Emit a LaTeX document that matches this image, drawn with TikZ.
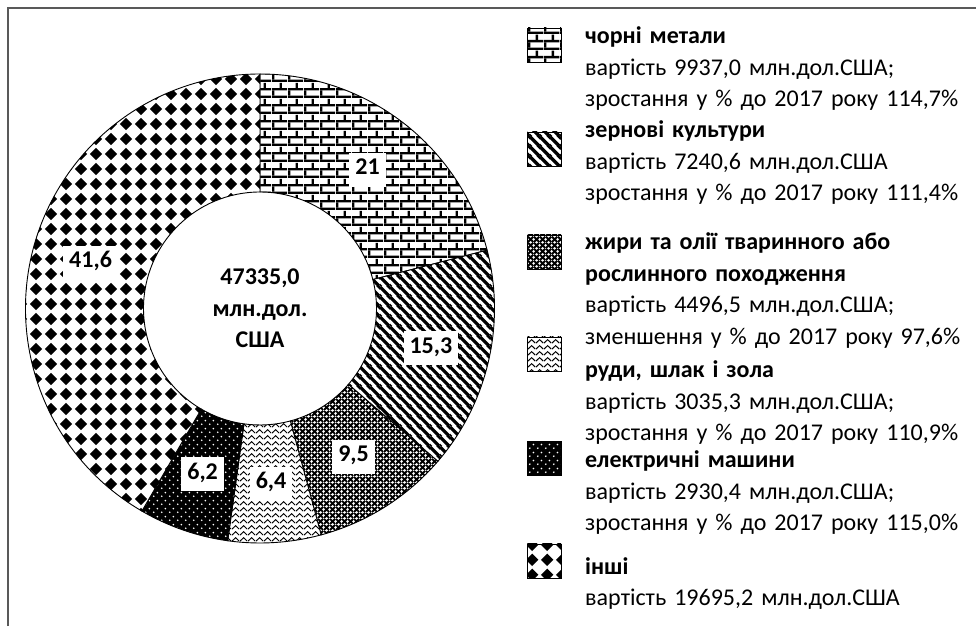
\documentclass[tikz,border=0pt]{standalone}
\usepackage{fontspec}
\setmainfont{Carlito}
\usetikzlibrary{patterns.meta}

\definecolor{framegray}{HTML}{595959}
\newcommand{\legfont}{\fontsize{24}{31.5}\selectfont}

% fill patterns of the ring
\tikzdeclarepattern{
  name=bricksfill, type=uncolored,
  bounding box={(0pt,0pt) and (16pt,16pt)},
  tile size={(16pt,16pt)},
  code={
    \fill (0pt,0pt) rectangle (16pt,2.5pt);
    \fill (0pt,8pt) rectangle (16pt,10.5pt);
    \fill (0pt,2.5pt) rectangle (2.5pt,8pt);
    \fill (8pt,10.5pt) rectangle (10.5pt,16pt);
  }
}
\tikzdeclarepattern{
  name=stripefill, type=uncolored,
  bounding box={(0pt,0pt) and (10pt,10pt)},
  tile size={(10pt,10pt)},
  code={
    \draw[line width=3.5pt] (-5pt,5pt) -- (5pt,-5pt) (0pt,10pt) -- (10pt,0pt) (5pt,15pt) -- (15pt,5pt);
  }
}
\tikzdeclarepattern{
  name=trellisfill, type=uncolored,
  bounding box={(0pt,0pt) and (6pt,6pt)},
  tile size={(6pt,6pt)},
  code={
    \draw[line width=2.1pt] (0pt,0pt) -- (6pt,6pt) (0pt,6pt) -- (6pt,0pt);
  }
}
\tikzdeclarepattern{
  name=weavefill, type=uncolored,
  bounding box={(0pt,0pt) and (8pt,6pt)},
  tile size={(8pt,6pt)},
  code={
    \draw[line width=1.1pt] (0pt,1pt) -- (4pt,5pt) -- (8pt,1pt);
  }
}
\tikzdeclarepattern{
  name=dotfill, type=uncolored,
  bounding box={(0pt,0pt) and (8pt,8pt)},
  tile size={(8pt,8pt)},
  code={
    \fill (2pt,2pt) circle (1pt);
    \fill (6pt,6pt) circle (1pt);
  }
}
\tikzdeclarepattern{
  name=diamondfill, type=uncolored,
  bounding box={(0pt,0pt) and (15pt,15pt)},
  tile size={(15pt,15pt)},
  code={
    \fill (7.5pt,1pt) -- (14pt,7.5pt) -- (7.5pt,14pt) -- (1pt,7.5pt) -- cycle;
  }
}

\tikzset{
  frame/.style={draw=framegray, line width=1.5},
  segment/.style={draw=black, line width=0.9},
  numbox/.style={fill=white, font=\legfont\bfseries, inner xsep=6pt, inner ysep=5pt, text height=17pt, text depth=7pt},
  legicon/.style={draw=black, line width=0.9},
  legtext/.style={anchor=base west, inner sep=0pt, text width=390pt, align=left, font=\legfont},
}

\begin{document}
\begin{tikzpicture}[x=1pt, y=1pt]
\useasboundingbox (0,0) rectangle (976,626);
% Frame
\draw[frame] (8,0) -- (8,618) -- (976,618);
% Ring
\coordinate (c) at (260,317.5);
\foreach \a/\b/\pat/\bg/\fg/\val [count=\i] in {
    90/14.4/bricksfill/white/black/21,
    14.4/-40.68/stripefill/white/black/{15,3},
    -40.68/-74.88/trellisfill/white/black/{9,5},
    -74.88/-97.92/weavefill/white/black/{6,4},
    -97.92/-120.24/dotfill/black/white/{6,2},
    -120.24/-270/diamondfill/white/black/{41,6}}
{
  \path[segment, preaction={fill=\bg}, pattern=\pat, pattern color=\fg]
    ([shift={(\a:234.5)}]c) arc[start angle=\a, end angle=\b, radius=234.5]
    -- ([shift={(\b:116.5)}]c) arc[start angle=\b, end angle=\a, radius=116.5] -- cycle;
  \node[numbox] (lab\i) at ([shift={({(\a+\b)/2}:175.5)}]c) {\val};
}
\node[font=\legfont\bfseries, align=center] (total) at (c) {47335,0\\млн.дол.\\США};
% Legend
\foreach \y/\pat/\bg/\fg in {598/bricksfill/white/black, 494/stripefill/white/black,
    391/trellisfill/white/black, 289/weavefill/white/black,
    185/dotfill/black/white, 82/diamondfill/white/black}
  \path[legicon, preaction={fill=\bg}, pattern=\pat, pattern color=\fg] (527,\y) rectangle +(34,-34);
\node[legtext] (leg1) at (585,582) {\textbf{чорні метали}\\вартість 9937,0 млн.дол.США;\\зростання у \% до 2017 року 114,7\%};
\node[legtext] (leg2) at (585,488) {\textbf{зернові культури}\\вартість 7240,6 млн.дол.США\\зростання у \% до 2017 року 111,4\%};
\node[legtext] (leg3) at (585,376) {\textbf{жири та олії тваринного або}\\\textbf{рослинного походження}\\вартість 4496,5 млн.дол.США;\\зменшення у \% до 2017 року 97,6\%};
\node[legtext] (leg4) at (585,248) {\textbf{руди, шлак і зола}\\вартість 3035,3 млн.дол.США;\\зростання у \% до 2017 року 110,9\%};
\node[legtext] (leg5) at (585,158) {\textbf{електричні машини}\\вартість 2930,4 млн.дол.США;\\зростання у \% до 2017 року 115,0\%};
\node[legtext] (leg6) at (585,52) {\textbf{інші}\\вартість 19695,2 млн.дол.США};
\end{tikzpicture}
\end{document}
